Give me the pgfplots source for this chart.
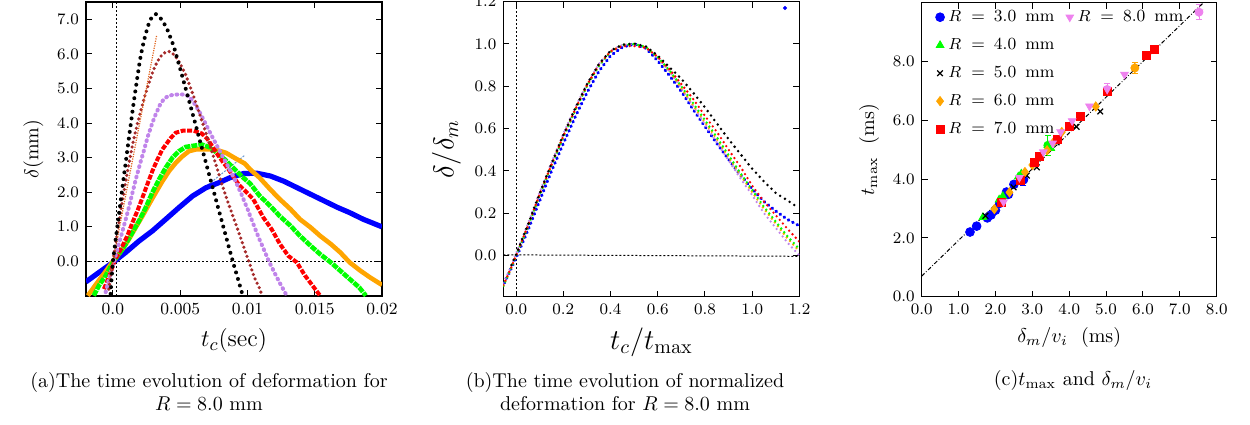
\documentclass[border=0pt]{standalone}
\usepackage{pgfplots}
\pgfplotsset{compat=1.18}

\definecolor{mblue}{rgb}{0,0,1}
\definecolor{mgreen}{rgb}{0,1,0}
\definecolor{morange}{rgb}{1,0.647,0}
\definecolor{mviolet}{RGB}{192,132,234}
\definecolor{mbrown}{RGB}{165,42,42}
\definecolor{mpink}{RGB}{238,130,238}
\definecolor{mtan}{RGB}{225,100,30}
\definecolor{mlblue}{RGB}{100,150,210}

\pgfplotsset{
  mpl/.style={
    scale only axis,
    anchor=south west,
    axis line style={line width=0.6pt},
    tick align=inside,
    major tick length=3pt,
    every tick/.style={black, line width=0.5pt},
    tick label style={font=\fontsize{8.5}{10}\selectfont},
    yticklabel style={/pgf/number format/.cd, fixed, fixed zerofill, precision=1},
  },
  guide/.style={black, line width=0.5pt, dash pattern=on 1pt off 1pt},
  dots/.style={line width=#1, line cap=round},
}
\newcommand{\Rmm}[1]{$R$\hspace{5pt}=\hspace{4.5pt}#1\hspace{4.5pt}mm}

\begin{document}
\begin{tikzpicture}
\useasboundingbox (0,0) rectangle (625pt,212pt);

% (a) deformation vs time
\begin{axis}[mpl, at={(43pt,64pt)}, width=148pt, height=147pt,
  xmin=-0.002, xmax=0.02, ymin=-1, ymax=7.5,
  xtick={0,0.005,0.01,0.015,0.02},
  xticklabels={0.0,0.005,0.01,0.015,0.02},
  scaled x ticks=false,
  ytick={0,1,2,3,4,5,6,7},
  xlabel={$t_c(\mathrm{sec})$},
  ylabel={$\delta(\mathrm{mm})$},
  xlabel style={font=\fontsize{12.5}{14}\selectfont},
  ylabel style={font=\fontsize{10}{12}\selectfont}]
\addplot[guide] coordinates {(0.0003,-1) (0.0003,7.5)};
\addplot[guide] coordinates {(-0.002,0) (0.02,0)};
% R = 8.0 mm, several impact speeds
\addplot[mlblue, line width=0.5pt, dash pattern=on 1pt off 0.7pt] coordinates {(0,0) (0.0098,3.07)};
\addplot[mblue, line width=2.6pt] coordinates {
(-0.002,-0.59) (-0.00104,-0.32) (0,-0.03) (0.00095,0.26) (0.00194,0.59) (0.00293,0.88)
(0.00393,1.22) (0.00492,1.56) (0.00592,1.89) (0.00691,2.13) (0.0079,2.28) (0.0087,2.42)
(0.0097,2.54) (0.0107,2.55) (0.0117,2.47) (0.0127,2.32) (0.0137,2.13) (0.0147,1.94)
(0.0157,1.75) (0.0167,1.56) (0.0176,1.41) (0.0186,1.22) (0.02,1.0)};
\addplot[morange, line width=2.3pt] coordinates {
(-0.00186,-0.99) (-0.00142,-0.75) (-0.00104,-0.55) (-0.0005,-0.27) (0,0) (0.0007,0.35)
(0.00119,0.64) (0.00169,0.98) (0.00219,1.31) (0.00268,1.65) (0.00318,1.99) (0.00368,2.32)
(0.00417,2.61) (0.00467,2.85) (0.00517,3.04) (0.00566,3.19) (0.0062,3.24) (0.0075,3.24)
(0.0079,3.2) (0.0084,3.14) (0.0091,2.98) (0.0098,2.83) (0.0102,2.66) (0.0109,2.42)
(0.0117,2.08) (0.0124,1.8) (0.0132,1.51) (0.0139,1.22) (0.0147,0.98) (0.0154,0.74)
(0.0162,0.5) (0.0169,0.26) (0.0176,-0.03) (0.0184,-0.27) (0.0191,-0.46) (0.02,-0.68)};
\addplot[mgreen, line width=2.3pt, dash pattern=on 3pt off 0.5pt] coordinates {
(-0.00142,-0.99) (-0.00104,-0.7) (-0.00054,-0.41) (0.00005,0) (0.00045,0.21) (0.00095,0.5)
(0.00145,0.84) (0.00194,1.17) (0.00244,1.56) (0.00293,1.99) (0.00343,2.37) (0.00393,2.71)
(0.00443,3.0) (0.00492,3.19) (0.00542,3.31) (0.0066,3.38) (0.0072,3.3) (0.0078,3.12)
(0.0084,2.92) (0.009,2.68) (0.0096,2.45) (0.0102,2.25) (0.0109,1.9) (0.0117,1.6)
(0.0124,1.31) (0.0132,1.03) (0.0139,0.74) (0.0147,0.45) (0.0154,0.21) (0.0162,-0.03)
(0.0169,-0.27) (0.0176,-0.51) (0.0183,-0.75) (0.0188,-0.99)};
\addplot[red, line width=2pt, dash pattern=on 2.5pt off 0.8pt] coordinates {
(-0.00067,-0.8) (-0.00025,-0.41) (0.0001,0) (0.00065,0.4) (0.00107,0.74) (0.00145,1.12)
(0.00182,1.46) (0.00219,1.84) (0.00256,2.23) (0.00293,2.61) (0.00331,2.95) (0.00368,3.24)
(0.0043,3.57) (0.00467,3.72) (0.0052,3.78) (0.006,3.78) (0.0066,3.7) (0.007,3.55)
(0.0074,3.32) (0.0078,3.08) (0.0082,2.86) (0.0086,2.66) (0.009,2.42) (0.0094,2.2)
(0.0098,2.05) (0.01043,1.8) (0.01118,1.27) (0.0118,0.93) (0.01242,0.5) (0.01304,0.16)
(0.01367,-0.03) (0.01428,-0.41) (0.01503,-0.8) (0.0154,-0.99)};
\addplot[mviolet, dots=2pt, dash pattern=on 0.4pt off 2.3pt] coordinates {
(-0.00054,-0.89) (-0.0003,-0.51) (0.0001,0.02) (0.0004,0.45) (0.00075,0.93) (0.0011,1.43)
(0.0014,1.9) (0.0017,2.37) (0.002,2.8) (0.0023,3.2) (0.0026,3.62) (0.0029,3.97)
(0.0032,4.27) (0.0035,4.53) (0.0038,4.7) (0.0041,4.78) (0.0045,4.82) (0.005,4.83)
(0.0054,4.82) (0.0057,4.76) (0.006,4.6) (0.0064,4.35) (0.0068,4.05) (0.0072,3.74)
(0.0076,3.44) (0.008,3.15) (0.0084,2.86) (0.0088,2.57) (0.0092,2.25) (0.0096,1.9)
(0.01,1.52) (0.0104,1.12) (0.0108,0.72) (0.0112,0.36) (0.0116,0) (0.012,-0.32)
(0.0124,-0.62) (0.01292,-0.99)};
\addplot[mbrown, dots=1.8pt, dash pattern=on 0pt off 2.4pt] coordinates {
(-0.0003,-0.8) (0,0) (0.0003,0.75) (0.0006,1.5) (0.0009,2.2) (0.0012,2.85) (0.0015,3.45)
(0.0018,3.95) (0.0021,4.4) (0.0024,4.82) (0.0027,5.18) (0.003,5.52) (0.0033,5.78)
(0.0036,5.95) (0.0039,6.05) (0.0042,6.07) (0.0045,5.99) (0.0048,5.85) (0.0051,5.64)
(0.0054,5.4) (0.0057,5.1) (0.006,4.77) (0.0063,4.43) (0.0066,4.08) (0.0069,3.73)
(0.0072,3.37) (0.0075,3.0) (0.0078,2.62) (0.0081,2.24) (0.0084,1.88) (0.0087,1.55)
(0.009,1.22) (0.0093,0.9) (0.0096,0.56) (0.0099,0.22) (0.0102,-0.1) (0.0105,-0.45)
(0.0109,-0.78) (0.0111,-1.0)};
\addplot[mtan, line width=0.6pt, dash pattern=on 0.6pt off 0.6pt] coordinates {(-0.0003,-0.6) (0.00326,6.55)};
\addplot[black, dots=2pt, dash pattern=on 0pt off 3.4pt] coordinates {
(-0.00017,-0.94) (-0.0001,-0.5) (0,0) (0.0002,0.62) (0.0004,1.22) (0.0006,1.82)
(0.0008,2.42) (0.001,3.0) (0.0012,3.6) (0.0014,4.18) (0.0016,4.75) (0.0018,5.28)
(0.002,5.8) (0.0022,6.2) (0.0024,6.52) (0.0026,6.8) (0.0028,7.0) (0.003,7.11)
(0.0032,7.15) (0.0034,7.1) (0.0036,7.0) (0.0038,6.88) (0.004,6.75) (0.0042,6.55)
(0.0044,6.35) (0.0046,6.12) (0.0048,5.84) (0.005,5.57) (0.0052,5.29) (0.0054,5.01)
(0.0056,4.73) (0.0058,4.45) (0.006,4.16) (0.0062,3.88) (0.0064,3.58) (0.0066,3.3)
(0.0068,3.02) (0.007,2.73) (0.0072,2.44) (0.0074,2.16) (0.0076,1.87) (0.0078,1.58)
(0.008,1.3) (0.0082,1.01) (0.0084,0.73) (0.0086,0.44) (0.0088,0.16) (0.009,-0.12)
(0.0092,-0.38) (0.0094,-0.65) (0.0096,-0.92)};
\end{axis}

% (b) normalized deformation
\begin{axis}[mpl, at={(251.7pt,63.65pt)}, width=148pt, height=147.5pt,
  xmin=-0.054, xmax=1.2, ymin=-0.195, ymax=1.2,
  xtick={0,0.2,0.4,0.6,0.8,1,1.2},
  ytick={0,0.2,0.4,0.6,0.8,1,1.2},
  xticklabel style={/pgf/number format/.cd, fixed, fixed zerofill, precision=1},
  xlabel={$t_c/t_{\max}$},
  ylabel={$\delta/\delta_m$},
  xlabel style={font=\fontsize{14}{16}\selectfont},
  ylabel style={font=\fontsize{14}{16}\selectfont}]
\addplot[guide] coordinates {(0,-0.195) (0,1.2)};
\addplot[guide] coordinates {(-0.054,0.003) (1.2,-0.004)};
\addplot[mblue, dots=1.6pt, dash pattern=on 0.3pt off 2.2pt] coordinates {
(-0.05,-0.13) (0,-0.01) (0.05,0.12) (0.1,0.26) (0.15,0.4) (0.2,0.53) (0.25,0.655)
(0.3,0.77) (0.35,0.87) (0.4,0.945) (0.45,0.985) (0.5,1.0) (0.55,0.98) (0.6,0.92)
(0.65,0.85) (0.7,0.775) (0.75,0.69) (0.8,0.61) (0.85,0.53) (0.9,0.455) (0.95,0.38)
(1.0,0.315) (1.05,0.255) (1.1,0.21) (1.15,0.17) (1.2,0.14)};
\addplot[only marks, mark=*, mark size=0.8pt, mblue] coordinates {(1.139,1.17)};
\addplot[mviolet, dots=1.3pt, dash pattern=on 0pt off 2.4pt] coordinates {
(-0.054,-0.13) (-0.025,-0.06) (0,0.01) (0.05,0.15) (0.1,0.3) (0.15,0.44) (0.2,0.575)
(0.25,0.7) (0.3,0.81) (0.35,0.905) (0.4,0.968) (0.45,0.996) (0.5,1.0) (0.55,0.983)
(0.6,0.935) (0.65,0.87) (0.7,0.79) (0.75,0.705) (0.8,0.62) (0.85,0.535) (0.9,0.45)
(0.95,0.365) (1.0,0.285) (1.05,0.2) (1.1,0.13) (1.15,0.06) (1.2,0.0)};
\addplot[morange, dots=1.3pt, dash pattern=on 0pt off 2.4pt] coordinates {
(-0.054,-0.14) (-0.025,-0.068) (0,0) (0.05,0.14) (0.1,0.29) (0.15,0.43) (0.2,0.565)
(0.25,0.69) (0.3,0.805) (0.35,0.9) (0.4,0.965) (0.45,0.995) (0.5,1.0) (0.55,0.985)
(0.6,0.935) (0.65,0.87) (0.7,0.79) (0.75,0.71) (0.8,0.63) (0.85,0.55) (0.9,0.465)
(0.95,0.38) (1.0,0.3) (1.05,0.22) (1.1,0.15) (1.15,0.08) (1.2,0.02)};
\addplot[mgreen, dots=1.3pt, dash pattern=on 0pt off 2.4pt] coordinates {
(-0.054,-0.145) (-0.025,-0.07) (0,0) (0.05,0.135) (0.1,0.285) (0.15,0.425) (0.2,0.56)
(0.25,0.685) (0.3,0.8) (0.35,0.895) (0.4,0.963) (0.45,0.995) (0.5,1.0) (0.55,0.986)
(0.6,0.938) (0.65,0.875) (0.7,0.8) (0.75,0.72) (0.8,0.64) (0.85,0.56) (0.9,0.475)
(0.95,0.39) (1.0,0.31) (1.05,0.23) (1.1,0.16) (1.15,0.09) (1.2,0.03)};
\addplot[red, dots=1.3pt, dash pattern=on 0pt off 2.4pt] coordinates {
(-0.054,-0.14) (-0.025,-0.068) (0,0) (0.05,0.14) (0.1,0.29) (0.15,0.43) (0.2,0.565)
(0.25,0.69) (0.3,0.805) (0.35,0.9) (0.4,0.965) (0.45,0.99) (0.5,0.99) (0.55,0.982)
(0.6,0.94) (0.65,0.88) (0.7,0.81) (0.75,0.74) (0.8,0.66) (0.85,0.585) (0.9,0.5)
(0.95,0.42) (1.0,0.33) (1.05,0.255) (1.1,0.19) (1.15,0.125) (1.2,0.065)};
\addplot[black, dots=1.4pt, dash pattern=on 0pt off 2.8pt] coordinates {
(-0.02,-0.045) (0,0.005) (0.05,0.145) (0.1,0.295) (0.15,0.435) (0.2,0.57) (0.25,0.695)
(0.3,0.81) (0.35,0.905) (0.4,0.968) (0.45,0.997) (0.5,1.002) (0.55,0.988) (0.6,0.945)
(0.65,0.89) (0.7,0.835) (0.75,0.77) (0.8,0.7) (0.85,0.625) (0.9,0.55) (0.95,0.48)
(1.0,0.41) (1.05,0.35) (1.1,0.295) (1.15,0.26) (1.19,0.23)};
\end{axis}

% (c) t_max against delta_m / v_i
\begin{axis}[mpl, at={(460.85pt,63.65pt)}, width=147.5pt, height=147pt,
  xmin=0, xmax=8, ymin=0, ymax=10,
  xtick={0,1,2,3,4,5,6,7,8},
  ytick={0,2,4,6,8},
  xticklabel style={/pgf/number format/.cd, fixed, fixed zerofill, precision=1},
  xlabel={$\delta_m/v_i\ \ (\mathrm{ms})$},
  ylabel={$t_{\max}\ \ (\mathrm{ms})$},
  label style={font=\fontsize{10}{12}\selectfont},
  legend columns=2,
  legend image code/.code={\draw[mark repeat=2, mark phase=2, #1]
    plot coordinates {(0cm,0cm) (0.2cm,0cm) (0.4cm,0cm)};},
  legend style={at={(0.046,0.99)}, anchor=north west, draw=none, fill=none,
    inner sep=0pt, font=\fontsize{8.5}{10}\selectfont, row sep=2.8pt, column sep=0pt,
    column 2/.style={column sep=5pt}},
  legend cell align=left]
\addplot[forget plot, only marks, mark=none, mblue, error bars/.cd, y dir=minus, y explicit,
  error mark options={rotate=90, mark size=1.5pt, mblue}] coordinates {(2.76,3.98) +- (0,0.18)};
\addplot[forget plot, only marks, mark=none, mgreen, error bars/.cd, y dir=both, y explicit,
  error mark options={rotate=90, mark size=1.5pt, mgreen}] coordinates {(3.42,5.15) +- (0,0.35)};
\addplot[forget plot, only marks, mark=none, morange, error bars/.cd, y dir=both, y explicit,
  error mark options={rotate=90, mark size=1.5pt, morange}] coordinates {(5.78,7.78) +- (0,0.2)};
\addplot[forget plot, only marks, mark=none, mpink, error bars/.cd, y dir=both, y explicit,
  error mark options={rotate=90, mark size=1.5pt, mpink}] coordinates {(5.03,7.05) +- (0,0.2) (7.52,9.68) +- (0,0.25)};
\addplot[forget plot, only marks, mark=*, mark size=2.2pt, mblue] coordinates {
(1.31,2.2) (1.49,2.4) (1.78,2.68) (1.88,2.78) (2.0,2.94) (2.12,3.18) (2.3,3.56)
(2.35,3.48) (2.5,3.82) (2.76,3.98)};
\addplot[forget plot, only marks, mark=triangle*, mark size=2.2pt, mgreen] coordinates {
(1.66,2.7) (2.1,3.3) (2.2,3.42) (2.62,4.08) (2.7,4.18) (3.42,5.15) (3.5,5.05)};
\addplot[forget plot, only marks, mark=x, mark size=2pt, line width=0.6pt, black] coordinates {
(1.73,2.75) (2.49,3.72) (2.85,4.12) (3.12,4.4) (3.66,5.25) (4.2,5.78) (4.84,6.3)};
\addplot[forget plot, only marks, mark=diamond*, mark size=2.3pt, morange] coordinates {
(1.97,2.98) (2.38,3.55) (2.8,4.24) (3.0,4.48) (3.4,4.98) (3.6,5.3) (3.8,5.6)
(4.72,6.47) (5.78,7.78)};
\addplot[forget plot, only marks, mark=square*, mark size=2pt, red] coordinates {
(2.15,3.2) (2.68,3.97) (3.05,4.58) (3.2,4.76) (3.68,5.36) (4.0,5.8) (4.3,6.12)
(5.03,7.0) (6.08,8.2) (6.3,8.42)};
\addplot[forget plot, only marks, mark=triangle*, mark options={rotate=180}, mark size=2.2pt, mpink] coordinates {
(2.22,3.22) (2.65,4.05) (3.3,4.92) (3.55,5.22) (3.77,5.6) (4.08,5.98) (4.55,6.48)
(5.03,7.05) (5.5,7.56) (7.52,9.68)};
\addplot[forget plot, black, line width=0.5pt, dash pattern=on 2pt off 1pt on 0.4pt off 1pt] coordinates {(0,0.7) (7.64,10.0)};
% legend: five rows in the first column, R = 8.0 mm alone in the second
\addlegendimage{only marks, mark=*, mark size=2.2pt, mblue}
\addlegendentry{\Rmm{3.0}}
\addlegendimage{only marks, mark=triangle*, mark options={rotate=180}, mark size=2.2pt, mpink}
\addlegendentry{\Rmm{8.0}}
\addlegendimage{only marks, mark=triangle*, mark size=2.2pt, mgreen}
\addlegendentry{\Rmm{4.0}}
\addlegendimage{empty legend}
\addlegendentry{}
\addlegendimage{only marks, mark=x, mark size=2pt, line width=0.6pt, black}
\addlegendentry{\Rmm{5.0}}
\addlegendimage{empty legend}
\addlegendentry{}
\addlegendimage{only marks, mark=diamond*, mark size=2.3pt, morange}
\addlegendentry{\Rmm{6.0}}
\addlegendimage{empty legend}
\addlegendentry{}
\addlegendimage{only marks, mark=square*, mark size=2pt, red}
\addlegendentry{\Rmm{7.0}}
\end{axis}

\node[align=center, font=\fontsize{10}{11.5}\selectfont] at (104.5pt,16.25pt)
  {(a)The time evolution of deformation for\\$R=8.0$ mm};
\node[align=center, font=\fontsize{10}{11.5}\selectfont] at (312.5pt,16.25pt)
  {(b)The time evolution of normalized\\deformation for $R=8.0$ mm};
\node[font=\fontsize{10}{11.5}\selectfont] at (536.5pt,22pt)
  {(c)$t_{\max}$ and $\delta_m/v_i$};
\end{tikzpicture}
\end{document}
